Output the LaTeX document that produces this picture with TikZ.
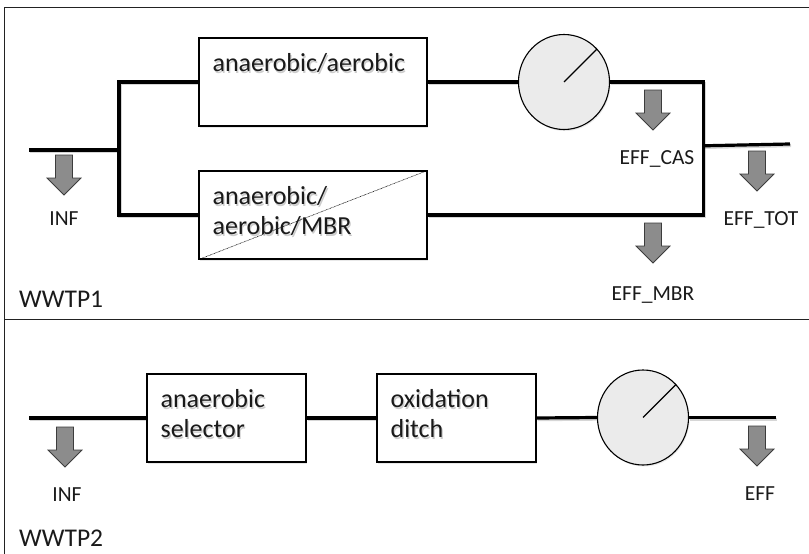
\documentclass[tikz,border=0pt]{standalone}
\usepackage{fontspec}
\setmainfont{Carlito}
\usetikzlibrary{shapes.geometric,shadows}
\definecolor{inkc}{HTML}{1A1A1A}
\definecolor{arrowfill}{HTML}{8C8C8C}
\definecolor{arrowline}{HTML}{3C3C3C}
\definecolor{clarfill}{HTML}{EBEBEB}
\definecolor{framec}{HTML}{222222}
\tikzset{
  frameline/.style={draw=framec, line width=1.3pt},
  pipe/.style={draw=black, line width=3.2pt, line join=miter},
  pipeshadow/.style={draw=black, line width=3.2pt, line join=miter, opacity=0.16,
    transform canvas={xshift=1pt, yshift=-1.6pt}},
  tank/.style={rectangle, draw=black, line width=1.2pt, fill=white, inner sep=0pt,
    minimum width=228pt, minimum height=88pt,
    drop shadow={shadow xshift=1pt, shadow yshift=-1.5pt, opacity=0.18}},
  smalltank/.style={tank, minimum width=159pt},
  clarifier/.style={ellipse, draw=black, line width=1.1pt, fill=clarfill, inner sep=0pt,
    minimum width=91pt, minimum height=95pt,
    drop shadow={shadow xshift=1pt, shadow yshift=-1.5pt, opacity=0.18}},
  needle/.style={draw=black, line width=1.1pt},
  membrane/.style={draw=black, line width=0.6pt, dash pattern=on 0.7pt off 0.7pt},
  boxtext/.style={anchor=base west, align=left, inner sep=0pt, text=inkc,
    font=\fontsize{26}{30}\selectfont},
  boxtextshadow/.style={boxtext, text=black, opacity=0.2,
    xshift=1.2pt, yshift=-1.6pt},
  flowlabel/.style={anchor=base, inner sep=0pt, text=inkc,
    font=\fontsize{21.5}{26}\selectfont},
  plantlabel/.style={anchor=base west, inner sep=0pt, text=inkc,
    font=\fontsize{25.5}{30}\selectfont},
  drain/.pic={
    \draw[fill=arrowfill, draw=arrowline, line width=0.8pt, line join=miter]
      (-8.5,0) -- (8.5,0) -- (8.5,23) -- (17,23) -- (0,40) -- (-17,23) -- (-8.5,23) -- cycle;
  }
}
\newcommand\pipeline[1]{\draw[pipeshadow] #1; \draw[pipe] #1;}
% text inside a tank: a faint offset copy under the dark text
% #1 node name, #2 position of the last baseline, #3 text
\newcommand\tanklabel[3]{%
  \node[boxtextshadow] (#1-shadow) at #2 {#3};
  \node[boxtext] (#1) at #2 {#3};}
\begin{document}
\begin{tikzpicture}[x=1pt, y=-1pt]
  \useasboundingbox (0,0) rectangle (809,554);
  \clip (0,0) rectangle (809,554);

  % outer frame and the divider between the two plants
  \draw[frameline] (4.7,570) -- (4.7,7.3) -- (830,7.3);
  \draw[frameline] (4.7,319.3) -- (830,319.3);

  % ---------------- WWTP1 ----------------
  \node[tank] (tankA) at (313,82) {};
  \node[tank] (mbr) at (313,215) {};
  \node[clarifier] (clarA) at (564,82) {};
  \draw[membrane] (mbr.south west) -- (mbr.north east);
  \draw[needle] (clarA.center) -- (clarA.45);

  \tanklabel{tankAtext}{([xshift=14pt, yshift=-34pt]tankA.north west)}{anaerobic/aerobic}
  \tanklabel{mbrtext}{([xshift=14pt, yshift=-64pt]mbr.north west)}{anaerobic/\\aerobic/MBR}

  \coordinate (inA) at (29,150);
  \coordinate (splitA) at (119,150);
  \coordinate (cornerA) at (703.3,215);
  \coordinate (joinA) at (703.3,145.8);
  \coordinate (outA) at (790,144);

  \pipeline{(inA) -- (splitA)}
  \pipeline{(tankA.west) -| (splitA) |- (mbr.west)}
  \pipeline{(tankA.east) -- (clarA.west)}
  \pipeline{(clarA.east) -| (cornerA) -- (mbr.east)}
  \pipeline{(joinA) -- (outA)}

  \pic (infA) at (64,155) {drain};
  \pic (effcas) at (653,90) {drain};
  \pic (efftot) at (757,151) {drain};
  \pic (effmbr) at (653,223) {drain};

  \node[flowlabel] (infAlabel) at (64,225) {INF};
  \node[flowlabel] (effcaslabel) at (657,164) {EFF\_CAS};
  \node[flowlabel] (efftotlabel) at (761,225) {EFF\_TOT};
  \node[flowlabel] (effmbrlabel) at (653,300) {EFF\_MBR};
  \node[plantlabel] (wwtpA) at (19,307) {WWTP1};

  % ---------------- WWTP2 ----------------
  \node[smalltank] (sel) at (226.5,418) {};
  \node[smalltank] (oxd) at (456.5,418) {};
  \node[clarifier] (clarB) at (643,417.5) {};
  \draw[needle] (clarB.center) -- (clarB.45);

  \tanklabel{seltext}{([xshift=14pt, yshift=-64pt]sel.north west)}{anaerobic\\selector}
  \tanklabel{oxdtext}{([xshift=14pt, yshift=-64pt]oxd.north west)}{oxidation\\ditch}

  \coordinate (inB) at (29,418);
  \coordinate (outB) at (776,417.5);

  \pipeline{(inB) -- (sel.west)}
  \pipeline{(sel.east) -- (oxd.west)}
  \pipeline{(oxd.east) -- (clarB.west)}
  \pipeline{(clarB.east) -- (outB)}

  \pic (infB) at (65,427) {drain};
  \pic (effB) at (757,426) {drain};

  \node[flowlabel] (infBlabel) at (67,501) {INF};
  \node[flowlabel] (effBlabel) at (760,500) {EFF};
  \node[plantlabel] (wwtpB) at (19,546) {WWTP2};
\end{tikzpicture}
\end{document}
